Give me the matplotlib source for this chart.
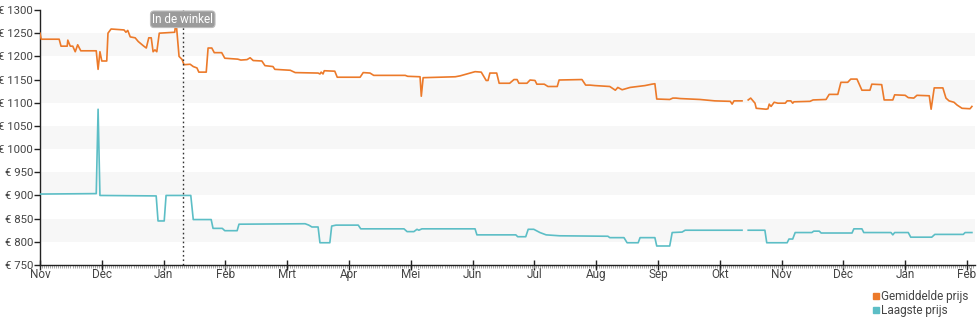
#!/usr/bin/env python3
"""Prijsverloop: gemiddelde en laagste prijs per maand."""

import numpy as np
import matplotlib
matplotlib.use('Agg')
import matplotlib.pyplot as plt
from matplotlib.lines import Line2D
from matplotlib.ticker import FixedLocator, MultipleLocator

plt.rcParams['font.family'] = ['Roboto', 'DejaVu Sans']

MONTHS = ['Nov', 'Dec', 'Jan', 'Feb', 'Mrt', 'Apr', 'Mei', 'Jun', 'Jul',
          'Aug', 'Sep', 'Okt', 'Nov', 'Dec', 'Jan', 'Feb']
STORE_DATE = 2.31  # months after 1 Nov
STORE_LABEL = 'In de winkel'

# x in months since 1 Nov, NaN marks a gap without data
AVG_X = [0.00, 0.02, 0.31, 0.34, 0.44, 0.45, 0.49, 0.53, 0.57, 0.61, 0.66,
         0.91, 0.94, 0.97, 1.00, 1.08, 1.10, 1.15, 1.36, 1.39, 1.42, 1.46,
         1.54, 1.59, 1.68, 1.72, 1.76, 1.80, 1.83, 1.86, 1.89, 1.93, 2.18,
         2.20, 2.25, 2.30, 2.33, 2.43, 2.48, 2.54, 2.57, 2.69, 2.72, 2.78,
         2.82, 2.94, 2.99, 3.20, 3.25, 3.35, 3.40, 3.45, 3.59, 3.64, 3.77,
         3.80, 4.05, 4.13, 4.50, 4.53, 4.55, 4.58, 4.60, 4.77, 4.81, 5.18,
         5.23, 5.34, 5.40, 5.91, 5.95, 6.15, 6.17, 6.20, 6.72, 6.80, 6.96,
         7.04, 7.14, 7.22, 7.25, 7.28, 7.39, 7.43, 7.60, 7.67, 7.72, 7.75,
         7.88, 7.93, 8.01, 8.04, 8.16, 8.22, 8.37, 8.40, 8.77, 8.83, 8.90,
         8.98, 9.22, 9.31, 9.35, 9.42, 9.55, 9.79, 9.90, 9.95, 9.98, 10.19,
         10.24, 10.29, 10.36, 10.68, 10.76, 10.84, 10.92, 11.17, 11.20,
         11.23, 11.36, 11.40, 11.46, 11.50, 11.57, 11.59, 11.75, 11.78,
         11.80, 11.83, 11.88, 11.94, 12.06, 12.09, 12.15, 12.18, 12.20,
         12.46, 12.51, 12.72, 12.77, 12.91, 12.96, 13.07, 13.12, 13.22,
         13.25, 13.30, 13.43, 13.46, 13.62, 13.66, 13.80, 13.83, 14.00,
         14.05, 14.14, 14.19, 14.39, 14.42, 14.47, 14.61, 14.66, 14.71,
         14.79, 14.84, 14.92, 15.05, 15.08]
AVG_PRICE = [1250, 1237, 1237, 1222, 1222, 1235, 1222, 1222, 1210, 1225,
             1212, 1212, 1172, 1210, 1190, 1190, 1250, 1259, 1257, 1252,
             1256, 1242, 1240, 1232, 1222, 1218, 1240, 1240, 1210, 1214,
             1210, 1250, 1252, 1278, 1200, 1193, 1182, 1183, 1178, 1175,
             1166, 1166, 1218, 1218, 1208, 1208, 1196, 1194, 1192, 1193,
             1197, 1191, 1190, 1180, 1178, 1172, 1170, 1165, 1164, 1162,
             1166, 1162, 1169, 1168, 1155, 1155, 1165, 1164, 1159, 1159,
             1157, 1156, 1114, 1154, 1156, 1158, 1164, 1167, 1166, 1148,
             1148, 1164, 1164, 1142, 1142, 1150, 1150, 1142, 1142, 1149,
             1148, 1140, 1140, 1135, 1135, 1149, 1150, 1138, 1138, 1137,
             1135, 1127, 1133, 1128, 1133, 1137, 1140, 1141, 1108, 1107,
             1110, 1110, 1109, 1107, 1106, 1105, 1104, 1103, 1097, 1104,
             1104, np.nan, 1106, 1110, 1099, 1088, 1086, 1087, 1097, 1092,
             1101, 1099, 1099, 1104, 1104, 1099, 1102, 1103, 1106, 1107,
             1118, 1118, 1144, 1144, 1151, 1151, 1142, 1127, 1127, 1140,
             1139, 1106, 1106, 1117, 1116, 1111, 1110, 1116, 1115, 1086,
             1132, 1132, 1110, 1104, 1101, 1095, 1088, 1087, 1092]

LOW_X = [0.00, 0.91, 0.94, 0.97, 1.88, 1.91, 2.01, 2.04, 2.44, 2.48, 2.77,
         2.80, 2.95, 2.99, 3.19, 3.22, 4.29, 4.35, 4.40, 4.50, 4.53, 4.69,
         4.72, 4.79, 5.15, 5.19, 5.89, 5.94, 6.05, 6.10, 6.13, 6.18, 7.04,
         7.07, 7.70, 7.73, 7.86, 7.90, 7.99, 8.09, 8.19, 8.41, 9.19, 9.22,
         9.45, 9.50, 9.68, 9.71, 9.95, 9.98, 10.19, 10.23, 10.39, 10.44,
         11.36, 11.40, 11.46, 11.73, 11.76, 12.09, 12.12, 12.18, 12.22,
         12.49, 12.52, 12.61, 12.64, 13.14, 13.17, 13.30, 13.33, 13.77,
         13.80, 13.83, 14.05, 14.09, 14.43, 14.48, 14.94, 14.97, 15.08]
LOW_PRICE = [903, 904, 1086, 900, 899, 845, 845, 900, 900, 848, 848, 829,
             829, 824, 824, 838, 839, 836, 832, 832, 798, 798, 834, 836,
             836, 828, 828, 822, 822, 827, 825, 828, 828, 815, 815, 811,
             811, 827, 827, 820, 815, 813, 812, 809, 809, 798, 798, 809,
             809, 791, 791, 820, 821, 825, 825, np.nan, 825, 825, 798, 798,
             806, 806, 820, 820, 823, 823, 819, 819, 828, 828, 820, 820,
             815, 820, 820, 810, 810, 816, 816, 820, 820]

ORANGE = '#ec7a2a'
TEAL = '#5cbec6'
TEXT = '#444444'

fig = plt.figure(figsize=(9.8, 3.25), dpi=100)
ax = fig.add_axes([40 / 980, 1 - 265 / 325, 935 / 980, 255 / 325])

# alternating light bands behind the data
for lo in range(800, 1300, 100):
    ax.axhspan(lo, lo + 50, color='#f7f7f7', lw=0, zorder=0)

ax.plot(AVG_X, AVG_PRICE, color=ORANGE, lw=1.2, zorder=3)
ax.plot(LOW_X, LOW_PRICE, color=TEAL, lw=1.2, zorder=3)

ax.set_xlim(0, 15.13)
yticks = list(range(750, 1301, 50))
ax.set_yticks(yticks)
ax.set_yticklabels([f'€ {v}' for v in yticks])
ax.set_ylim(750, 1300)

ax.xaxis.set_major_locator(FixedLocator(range(len(MONTHS))))
ax.set_xticklabels(MONTHS)
ax.xaxis.set_minor_locator(MultipleLocator(1 / 30.4))

for side in ('top', 'right'):
    ax.spines[side].set_visible(False)
for side in ('left', 'bottom'):
    ax.spines[side].set_color('#222222')
    ax.spines[side].set_linewidth(1.0)

ax.tick_params(axis='y', direction='out', length=4, width=1, pad=1,
               labelsize=8.2, labelcolor=TEXT, color='#222222')
ax.tick_params(axis='x', which='major', direction='inout', length=7,
               width=1, pad=-1, labelsize=8.5, labelcolor=TEXT,
               color='#222222')
ax.tick_params(axis='x', which='minor', direction='out', length=2,
               width=0.6, color='#9a9a9a')

# marker for the date the product hit the shops
ax.axvline(STORE_DATE, color='#333333', lw=1, ls=(0, (1.2, 2)), zorder=4)
ax.text(STORE_DATE, 1280, STORE_LABEL, ha='center', va='center',
        fontsize=8.5, color='white', zorder=5,
        bbox=dict(boxstyle='round,pad=0.15,rounding_size=0.3',
                  fc='#9b9b9b', ec='#bdbdbd', lw=0.8))

handles = [Line2D([], [], color=ORANGE, marker='s', ls='', markersize=5),
           Line2D([], [], color=TEAL, marker='s', ls='', markersize=5)]
fig.legend(handles, ['Gemiddelde prijs', 'Laagste prijs'],
           loc='lower right', bbox_to_anchor=(0.997, 0.0), frameon=False,
           fontsize=8.5, labelcolor=TEXT, handlelength=0.6,
           handletextpad=0.2, labelspacing=0.05, borderpad=0.2)

fig.savefig('out.png', dpi=100)
